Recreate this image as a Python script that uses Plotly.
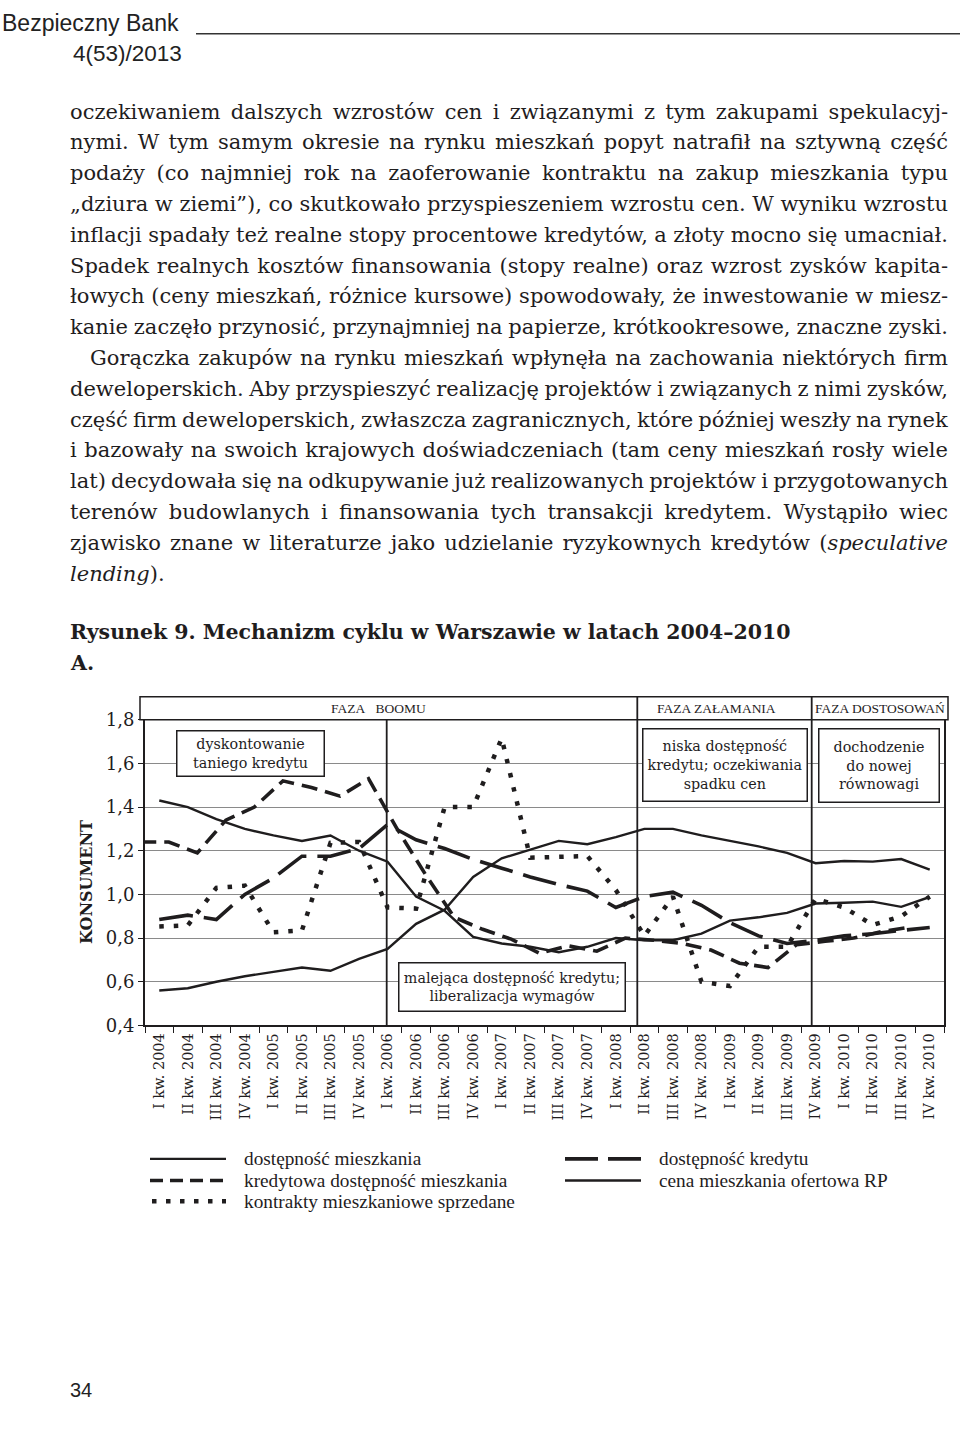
import plotly.graph_objects as go

W, H = 960, 1430
INK = "#1f1d1e"

# ---------------- data ----------------
categories = [
    "I kw. 2004", "II kw. 2004", "III kw. 2004", "IV kw. 2004",
    "I kw. 2005", "II kw. 2005", "III kw. 2005", "IV kw. 2005",
    "I kw. 2006", "II kw. 2006", "III kw. 2006", "IV kw. 2006",
    "I kw. 2007", "II kw. 2007", "III kw. 2007", "IV kw. 2007",
    "I kw. 2008", "II kw. 2008", "III kw. 2008", "IV kw. 2008",
    "I kw. 2009", "II kw. 2009", "III kw. 2009", "IV kw. 2009",
    "I kw. 2010", "II kw. 2010", "III kw. 2010", "IV kw. 2010",
]

dostepnosc_mieszkania = [1.43, 1.40, 1.345, 1.30, 1.27, 1.245, 1.27, 1.20, 1.15, 0.99, 0.925, 0.805,
                         0.775, 0.76, 0.735, 0.76, 0.80, 0.79, 0.79, 0.82, 0.88, 0.895, 0.915, 0.958,
                         0.962, 0.967, 0.943, 0.988]
kredytowa_dostepnosc = [1.24, 1.24, 1.19, 1.34, 1.40, 1.52, 1.49, 1.45, 1.53, 1.30, 1.09, 0.895,
                        0.84, 0.795, 0.73, 0.765, 0.74, 0.80, 0.79, 0.775, 0.745, 0.685, 0.665, 0.77,
                        0.785, 0.80, 0.83, 0.85]
kontrakty_sprzedane = [0.853, 0.858, 1.03, 1.04, 0.826, 0.835, 1.236, 1.24, 0.94, 0.935, 1.40, 1.40,
                       1.715, 1.168, 1.172, 1.176, 1.02, 0.81, 0.99, 0.60, 0.58, 0.76, 0.76, 0.98,
                       0.94, 0.86, 0.90, 0.99]
dostepnosc_kredytu = [0.885, 0.905, 0.885, 1.00, 1.075, 1.175, 1.175, 1.21, 1.32, 1.25, 1.21, 1.16,
                      1.12, 1.08, 1.045, 1.015, 0.94, 0.99, 1.01, 0.95, 0.87, 0.81, 0.775, 0.79,
                      0.81, 0.82, 0.835, 0.848]
cena_ofertowa = [0.56, 0.57, 0.60, 0.625, 0.645, 0.665, 0.65, 0.705, 0.75, 0.865, 0.93, 1.08,
                 1.165, 1.205, 1.245, 1.23, 1.262, 1.30, 1.30, 1.27, 1.245, 1.22, 1.19, 1.143,
                 1.153, 1.15, 1.162, 1.113]

y_tick_vals = [0.4, 0.6, 0.8, 1.0, 1.2, 1.4, 1.6, 1.8]
y_tick_text = ["0,4", "0,6", "0,8", "1,0", "1,2", "1,4", "1,6", "1,8"]

legend_names = ["dostępność mieszkania", "kredytowa dostępność mieszkania",
                "kontrakty mieszkaniowe sprzedane", "dostępność kredytu",
                "cena mieszkania ofertowa RP"]

phase_names = ["FAZA&#160;&#160;&#160;BOOMU", "FAZA ZAŁAMANIA", "FAZA DOSTOSOWAŃ"]

body_lines = [
    "oczekiwaniem dalszych wzrostów cen i związanymi z tym zakupami spekulacyj-",
    "nymi. W tym samym okresie na rynku mieszkań popyt natrafił na sztywną część",
    "podaży (co najmniej rok na zaoferowanie kontraktu na zakup mieszkania typu",
    "„dziura w ziemi”), co skutkowało przyspieszeniem wzrostu cen. W wyniku wzrostu",
    "inflacji spadały też realne stopy procentowe kredytów, a złoty mocno się umacniał.",
    "Spadek realnych kosztów finansowania (stopy realne) oraz wzrost zysków kapita-",
    "łowych (ceny mieszkań, różnice kursowe) spowodowały, że inwestowanie w miesz-",
    "kanie zaczęło przynosić, przynajmniej na papierze, krótkookresowe, znaczne zyski.",
    "Gorączka zakupów na rynku mieszkań wpłynęła na zachowania niektórych firm",
    "deweloperskich. Aby przyspieszyć realizację projektów i związanych z nimi zysków,",
    "część firm deweloperskich, zwłaszcza zagranicznych, które później weszły na rynek",
    "i bazowały na swoich krajowych doświadczeniach (tam ceny mieszkań rosły wiele",
    "lat) decydowała się na odkupywanie już realizowanych projektów i przygotowanych",
    "terenów budowlanych i finansowania tych transakcji kredytem. Wystąpiło wiec",
    "zjawisko znane w literaturze jako udzielanie ryzykownych kredytów (<i>speculative</i>",
    "<i>lending</i>).",
]

# ---------------- helpers (pixel -> paper) ----------------
def px(x):
    return x / W


def py(y):
    return 1 - y / H


SERIF = "DejaVu Serif"
SERIF2 = "Liberation Serif"
SANS = "Liberation Sans"

# the short-dash series is drawn shifted left in the original figure
SHIFT = -0.666

fig = go.Figure()

fig.add_trace(go.Scatter(x=categories, y=dostepnosc_mieszkania, mode="lines",
                         line=dict(color=INK, width=2.4), xaxis="x", yaxis="y"))
fig.add_trace(go.Scatter(x=categories, y=cena_ofertowa, mode="lines",
                         line=dict(color=INK, width=2.4), xaxis="x", yaxis="y"))
fig.add_trace(go.Scatter(x=categories, y=dostepnosc_kredytu, mode="lines",
                         line=dict(color=INK, width=3.6, dash="34px,11px"), xaxis="x", yaxis="y"))
fig.add_trace(go.Scatter(x=categories, y=kontrakty_sprzedane, mode="lines",
                         line=dict(color=INK, width=4.5, dash="4.5px,10px"), xaxis="x", yaxis="y"))
fig.add_trace(go.Scatter(x=[i + SHIFT for i in range(len(categories))], y=kredytowa_dostepnosc,
                         mode="lines", line=dict(color=INK, width=3.6, dash="16px,8px"),
                         xaxis="x2", yaxis="y", cliponaxis=True))

X0, X1 = 145, 944
Y_TOP, Y_BOT = 719.3, 1029.5

fig.update_layout(
    width=W, height=H, autosize=False,
    margin=dict(l=0, r=0, t=0, b=0),
    paper_bgcolor="white", plot_bgcolor="white",
    showlegend=False,
    xaxis=dict(type="category", categoryorder="array", categoryarray=categories,
               range=[-0.5, 27.5], domain=[px(X0), px(X1)], anchor="y",
               tickson="boundaries", ticks="outside", ticklen=6, tickwidth=1.2, tickcolor=INK,
               showline=True, linecolor=INK, linewidth=2, mirror=True, showgrid=False,
               tickangle=-90, tickfont=dict(family=SERIF, size=14.5, color=INK)),
    xaxis2=dict(overlaying="x", anchor="y", range=[-0.5, 27.5], visible=False, type="linear"),
    yaxis=dict(range=[0.4, 1.8], domain=[py(Y_BOT), py(Y_TOP)], anchor="x",
               tickvals=y_tick_vals, ticktext=y_tick_text, ticks="outside", ticklen=5,
               tickcolor=INK, tickwidth=1.2,
               showgrid=True, gridcolor="#8a8a8a", gridwidth=1.2, zeroline=False,
               showline=True, linecolor=INK, linewidth=2, mirror=True,
               tickfont=dict(family=SERIF, size=18, color=INK)),
)

shapes = []
ann = []

# top running header
ann.append(dict(text="Bezpieczny Bank", x=px(0), y=py(12), xanchor="left", yanchor="middle",
                font=dict(family=SANS, size=23, color="#222")))
ann.append(dict(text="4(53)/2013", x=px(184), y=py(43), xanchor="right", yanchor="middle",
                font=dict(family=SANS, size=22.5, color="#222")))
shapes.append(dict(type="line", xref="paper", yref="paper", x0=px(196), x1=px(960),
                   y0=py(23), y1=py(23), line=dict(color="#333", width=1.5)))

# body text (justified in the browser, see post_script)
justify = {}
for k, line in enumerate(body_lines):
    x = 88 if k == 8 else 68
    if k != len(body_lines) - 1:
        justify[len(ann)] = 948
    ann.append(dict(text=line, x=px(x), y=py(102 + 31.27 * k), xanchor="left", yanchor="middle",
                    align="left", font=dict(family=SERIF, size=21, color=INK)))

ann.append(dict(text="<b>Rysunek 9. Mechanizm cyklu w Warszawie w latach 2004–2010</b>",
                x=px(68), y=py(630), xanchor="left", yanchor="middle",
                font=dict(family=SERIF, size=20.5, color=INK)))
ann.append(dict(text="<b>A.</b>", x=px(68), y=py(662), xanchor="left", yanchor="middle",
                font=dict(family=SERIF, size=20.5, color=INK)))

# phase header
shapes.append(dict(type="rect", xref="paper", yref="paper", x0=px(140), x1=px(948),
                   y0=py(696), y1=py(719.3), line=dict(color=INK, width=1.5), fillcolor="white",
                   layer="above"))
for xs, ytop in [(386.7, 719.3), (637.3, 696), (811.7, 696)]:
    shapes.append(dict(type="line", xref="paper", yref="paper", x0=px(xs), x1=px(xs),
                       y0=py(ytop), y1=py(Y_BOT), line=dict(color=INK, width=1.8), layer="above"))
for name, xc in zip(phase_names, [378, 716, 880]):
    ann.append(dict(text=name, x=px(xc), y=py(707.5), xanchor="center", yanchor="middle",
                    font=dict(family=SERIF2, size=13.5, color=INK)))

# boxes in chart
boxes = [
    ("dyskontowanie<br>taniego kredytu", 176, 325, 730, 777),
    ("niska dostępność<br>kredytu; oczekiwania<br>spadku cen", 642, 808, 728, 802),
    ("dochodzenie<br>do nowej<br>równowagi", 818, 940, 728, 803),
    ("malejąca dostępność kredytu;<br>liberalizacja wymagów", 398, 626, 966, 1016),
]
for text, bx0, bx1, by0, by1 in boxes:
    ann.append(dict(text=text, x=px((bx0 + bx1) / 2), y=py((by0 + by1) / 2),
                    xanchor="center", yanchor="middle", width=bx1 - bx0 - 6, height=by1 - by0 - 6,
                    bordercolor=INK, borderwidth=1.5, borderpad=1.5, bgcolor="white",
                    align="center", valign="middle",
                    font=dict(family=SERIF, size=14.3, color=INK)))

# y title
ann.append(dict(text="<b>KONSUMENT</b>", x=px(86), y=py(884), xanchor="center", yanchor="middle",
                textangle=-90, font=dict(family=SERIF, size=16, color=INK)))

# legend (drawn manually)
leg_items = [
    (legend_names[0], 150, 226, 1165, dict(width=2.4)),
    (legend_names[1], 150, 226, 1187, dict(width=3.6, dash="13px,7px")),
    (legend_names[2], 152, 226, 1208, dict(width=4.5, dash="4.5px,9.5px")),
    (legend_names[3], 565, 641, 1165, dict(width=3.6, dash="33px,10px")),
    (legend_names[4], 565, 641, 1187, dict(width=2.4)),
]
for name, lx0, lx1, ly, style in leg_items:
    shapes.append(dict(type="line", xref="paper", yref="paper", x0=px(lx0), x1=px(lx1),
                       y0=py(ly), y1=py(ly), line=dict(color=INK, **style)))
    ann.append(dict(text=name, x=px(lx1 + 16), y=py(ly), xanchor="left", yanchor="middle",
                    font=dict(family=SERIF2, size=19.3, color=INK)))

# page number
ann.append(dict(text="34", x=px(68), y=py(1400), xanchor="left", yanchor="middle",
                font=dict(family=SANS, size=20, color="#222")))

for a in ann:
    a.setdefault("xref", "paper")
    a.setdefault("yref", "paper")
    a.setdefault("showarrow", False)

fig.update_layout(shapes=shapes, annotations=ann)

just_js = "{" + ",".join(f'"{k}":{v}' for k, v in justify.items()) + "}"
post = """
document.body.style.margin = '0px';
document.body.style.overflow = 'hidden';
var gd = document.getElementById('{plot_id}');
var J = %s;
gd.querySelectorAll('g.annotation').forEach(function(g){
  var idx = g.getAttribute('data-index');
  if (!(idx in J)) return;
  var t = g.querySelector('text.annotation-text');
  if (!t) return;
  var n = (t.textContent.match(/ /g) || []).length;
  if (!n) return;
  var r = t.getBoundingClientRect();
  var extra = J[idx] - r.right;
  if (extra > -2 * n && extra / n < 14) { t.style.wordSpacing = (extra / n) + 'px'; }
});
""" % just_js

fig.write_html("out.html", post_script=post, config={"displayModeBar": False})
